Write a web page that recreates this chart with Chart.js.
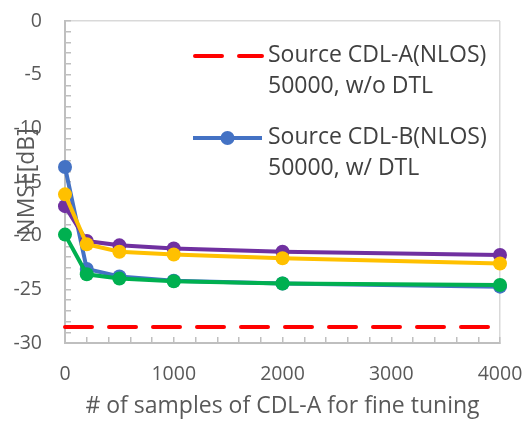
<!DOCTYPE html>
<html>
<head>
<meta charset="utf-8">
<script src="https://cdn.jsdelivr.net/npm/chart.js@4.4.0/dist/chart.umd.min.js"></script>
<style>
  html, body { margin: 0; padding: 0; background: #fff; }
  #wrap { width: 529px; height: 425px; }
</style>
</head>
<body>
<div id="wrap"><canvas id="nmseChart"></canvas></div>
<script>
'use strict';

/* --- Data --- */
const samples = [0, 200, 500, 1000, 2000, 4000];
const nmseGreen  = [-19.9, -23.6, -24.0, -24.25, -24.45, -24.6];
const nmseYellow = [-16.15, -20.8, -21.5, -21.75, -22.1, -22.6];
const nmsePurple = [-17.25, -20.5, -20.9, -21.2, -21.5, -21.8];
const nmseBlue   = [-13.6, -23.1, -23.8, -24.2, -24.45, -24.75];
const sourceOnlyLevel = -28.5;
const sourceOnlyRange = [0, 4000];

const legendSourceA = ['Source CDL-A(NLOS)', '50000, w/o DTL'];
const legendSourceB = ['Source CDL-B(NLOS)', '50000, w/ DTL'];

const FONT = "'Open Sans', 'Noto Sans', sans-serif";
const AXIS_GRAY = '#bfbfbf';
const BORDER_GRAY = '#d9d9d9';
const TEXT_GRAY = '#595959';

function toPoints(ys) {
  return samples.map((x, i) => ({ x: x, y: ys[i] }));
}

function seriesStyle(color) {
  return {
    borderColor: color,
    backgroundColor: color,
    pointBackgroundColor: color,
    pointBorderColor: color,
    borderWidth: 4,
    pointRadius: 7,
    pointHoverRadius: 7,
    pointBorderWidth: 0,
    tension: 0,
    fill: false,
    clip: false
  };
}

/* --- Legend drawn over the plot (two entries, two lines each) --- */
const overlayLegend = {
  id: 'overlayLegend',
  afterDatasetsDraw(chart) {
    const ctx = chart.ctx;
    const entries = [
      { ds: chart.data.datasets[4], lines: legendSourceA, y: 56 },
      { ds: chart.data.datasets[3], lines: legendSourceB, y: 138 }
    ];
    ctx.save();
    entries.forEach(e => {
      const x0 = 193, x1 = 262;
      ctx.strokeStyle = e.ds.borderColor;
      ctx.lineWidth = e.ds.borderWidth;
      ctx.lineCap = e.ds.borderCapStyle || 'butt';
      ctx.setLineDash(e.ds.borderDash || []);
      ctx.beginPath();
      ctx.moveTo(x0 + (e.ds.borderDash ? 2 : 0), e.y);
      ctx.lineTo(x1, e.y);
      ctx.stroke();
      ctx.setLineDash([]);
      if (e.ds.pointRadius > 0) {
        ctx.fillStyle = e.ds.pointBackgroundColor;
        ctx.beginPath();
        ctx.arc((x0 + x1) / 2, e.y, e.ds.pointRadius, 0, Math.PI * 2);
        ctx.fill();
      }
      ctx.fillStyle = '#404040';
      ctx.font = '23px ' + FONT;
      ctx.textAlign = 'left';
      ctx.textBaseline = 'middle';
      e.lines.forEach((t, i) => ctx.fillText(t, 268, e.y - 1 + i * 31.5));
    });
    ctx.restore();
  }
};

/* --- Chart --- */
new Chart(document.getElementById('nmseChart'), {
  type: 'line',
  data: {
    datasets: [
      Object.assign({ label: 'green', data: toPoints(nmseGreen) }, seriesStyle('#00b050')),
      Object.assign({ label: 'yellow', data: toPoints(nmseYellow) }, seriesStyle('#ffc000')),
      Object.assign({ label: 'purple', data: toPoints(nmsePurple) }, seriesStyle('#7030a0')),
      Object.assign({ label: legendSourceB.join(' '), data: toPoints(nmseBlue) }, seriesStyle('#4472c4')),
      {
        label: legendSourceA.join(' '),
        data: sourceOnlyRange.map(x => ({ x: x, y: sourceOnlyLevel })),
        borderColor: '#ff0000',
        borderWidth: 4,
        borderDash: [27, 17],
        borderCapStyle: 'round',
        pointRadius: 0,
        fill: false,
        clip: false
      }
    ]
  },
  options: {
    responsive: true,
    maintainAspectRatio: false,
    animation: false,
    events: [],
    layout: { padding: { top: 21, right: 29, bottom: 0, left: 0 } },
    plugins: {
      legend: { display: false },
      tooltip: { enabled: false }
    },
    scales: {
      x: {
        type: 'linear',
        min: 0,
        max: 4000,
        afterFit: s => { s.height = 82; s.paddingLeft = 0; s.paddingRight = 0; },
        ticks: {
          stepSize: 200,
          autoSkip: false,
          maxRotation: 0,
          padding: 26,
          color: TEXT_GRAY,
          font: { family: FONT, size: 19.5 },
          callback: v => (v % 1000 === 0 ? String(v) : '')
        },
        grid: {
          drawTicks: true,
          tickLength: -6,
          tickColor: AXIS_GRAY,
          tickWidth: 1.5,
          color: c => (c.tick && c.tick.value === 4000 ? BORDER_GRAY : 'rgba(0,0,0,0)'),
          lineWidth: 1.5
        },
        border: { color: AXIS_GRAY, width: 2 },
        title: {
          display: true,
          text: '# of samples of CDL-A for fine tuning',
          color: TEXT_GRAY,
          font: { family: FONT, size: 23 },
          padding: { top: 0, bottom: 5 }
        }
      },
      y: {
        min: -30,
        max: 0,
        afterFit: s => { s.width = 65; s.paddingTop = 0; s.paddingBottom = 0; },
        ticks: {
          stepSize: 1,
          autoSkip: false,
          padding: 29,
          color: TEXT_GRAY,
          font: { family: FONT, size: 19.5 },
          callback: v => (v % 5 === 0 ? String(v) : '')
        },
        grid: {
          drawTicks: true,
          tickLength: -6,
          tickColor: AXIS_GRAY,
          tickWidth: 1.5,
          color: c => (c.tick && c.tick.value === 0 ? BORDER_GRAY : 'rgba(0,0,0,0)'),
          lineWidth: 1.5
        },
        border: { color: AXIS_GRAY, width: 2 },
        title: {
          display: true,
          text: 'NMSE[dB]',
          color: TEXT_GRAY,
          font: { family: FONT, size: 23 },
          padding: { top: 14, bottom: 0 }
        }
      }
    }
  },
  plugins: [overlayLegend]
});
</script>
</body>
</html>
